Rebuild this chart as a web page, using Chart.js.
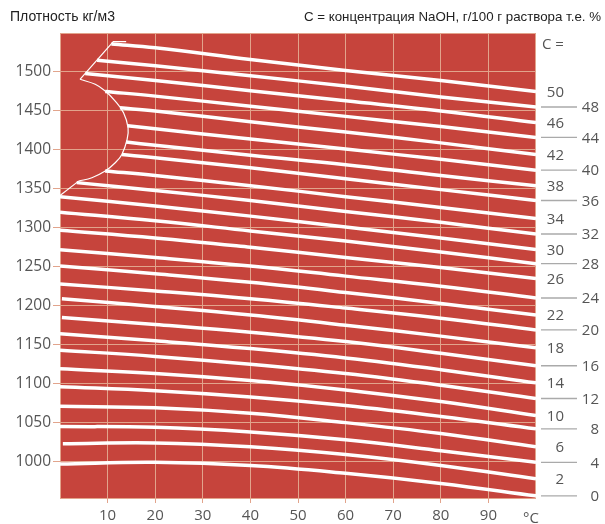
<!DOCTYPE html>
<html lang="ru">
<head>
<meta charset="utf-8">
<title>Плотность растворов NaOH</title>
<script src="https://cdn.jsdelivr.net/npm/chart.js@4.4.1/dist/chart.umd.min.js"></script>
<style>
  html, body { margin: 0; padding: 0; background: #fff; }
  canvas { display: block; }
</style>
</head>
<body>
<canvas id="chart" width="605" height="524"></canvas>
<script>
// concentration, g NaOH / 100 g solution (one white line each)
const CONC = [0, 2, 4, 6, 8, 10, 12, 14, 16, 18, 20, 22, 24, 26, 28, 30, 32, 34, 36, 38, 40, 42, 44, 46, 48, 50];

// where each line starts (temperature, density) - high C lines start on the boundary curve
const START_T = [0, 0.6, 0, 0, 0, 0, 0, 0, 0.4, 0.4, 0, 0, 0, 0, 0, 0, 3.5, 9.5, 13.0, 13.9, 14.2, 12.6, 9.5, 5.3, 7.8, 10.8];
const START_D = [997, 1023, 1045, 1071, 1096, 1119, 1143, 1164, 1185, 1209, 1228, 1251, 1272, 1297, 1320, 1340, 1358, 1373, 1394, 1410, 1431, 1454, 1475, 1498, 1515, 1536];

// density (kg/m3) read at 20, 40, 60, 80 and 100 °C
const TEMPS = [20, 40, 60, 80, 100];
const D_20 = [999, 1024, 1044, 1069, 1091, 1113, 1135, 1155, 1176, 1199, 1219, 1241, 1262, 1287, 1309, 1328, 1348, 1367, 1390, 1406, 1427, 1450, 1469, 1489, 1508, 1531];
const D_40 = [995, 1019, 1038, 1062, 1083, 1104, 1125, 1145, 1166, 1188, 1209, 1230, 1251, 1275, 1296, 1315, 1335, 1354, 1377, 1393, 1414, 1436, 1456, 1476, 1495, 1516];
const D_60 = [985, 1009, 1028, 1050, 1072, 1092, 1113, 1133, 1154, 1175, 1197, 1217, 1238, 1262, 1283, 1301, 1321, 1340, 1363, 1381, 1401, 1423, 1443, 1463, 1482, 1502];
const D_80 = [972, 995, 1014, 1036, 1058, 1077, 1098, 1118, 1139, 1161, 1184, 1203, 1225, 1249, 1269, 1287, 1307, 1326, 1349, 1367, 1388, 1409, 1430, 1450, 1468, 1489];
const D_100 = [956, 978, 999, 1019, 1042, 1059, 1081, 1101, 1123, 1146, 1169, 1188, 1210, 1235, 1254, 1272, 1292, 1312, 1335, 1354, 1374, 1394, 1416, 1435, 1455, 1475];

// solubility boundary (thin line): top straight part, curved part, bottom straight part
const BOUND_TOP_T = [13.9, 11.2, 4.2];
const BOUND_TOP_D = [1539, 1539, 1490.6];
const BOUND_MID_T = [4.2, 7.4, 9.5, 11.6, 13.35, 14.3, 14.1, 13.0, 11.6, 9.5, 6.7, 3.9];
const BOUND_MID_D = [1490.6, 1484.2, 1475.6, 1462.7, 1447.8, 1428.5, 1413.5, 1394.2, 1383.5, 1372.8, 1364.3, 1359.9];
const BOUND_LOW_T = [3.9, 0];
const BOUND_LOW_D = [1359.9, 1341.5];

const X_TICKS = [10, 20, 30, 40, 50, 60, 70, 80, 90];
const Y_TICKS = [1000, 1050, 1100, 1150, 1200, 1250, 1300, 1350, 1400, 1450, 1500];

const TITLE_LEFT = 'Плотность кг/м3';
const TITLE_RIGHT = 'C = концентрация NaOH, г/100 г раствора т.е. %';

const PLOT_RED = '#c6443c';
const GRID = '#e2a48c';
const TEXT = '#555';
const NUM_FONT = '"Open Sans", "Noto Sans", sans-serif';

const COLS = [D_20, D_40, D_60, D_80, D_100];

const lineSets = CONC.map((c, i) => ({
  label: 'C = ' + c,
  data: [{ x: START_T[i], y: START_D[i] }].concat(
    TEMPS.map((t, k) => ({ x: t, y: COLS[k][i] }))
  ),
  borderColor: '#fff',
  borderWidth: 3.5,
  pointRadius: 0,
  tension: 0.4,
}));

const toPts = (ts, ds) => ts.map((t, k) => ({ x: t, y: ds[k] }));
const boundStyle = { borderColor: '#fff', borderWidth: 1.2, pointRadius: 0 };
const boundSets = [
  Object.assign({ label: 'граница', data: toPts(BOUND_TOP_T, BOUND_TOP_D), tension: 0 }, boundStyle),
  Object.assign({ label: 'граница', data: toPts(BOUND_MID_T, BOUND_MID_D), tension: 0.4 }, boundStyle),
  Object.assign({ label: 'граница', data: toPts(BOUND_LOW_T, BOUND_LOW_D), tension: 0 }, boundStyle),
];

// red plot area plus its light frame
const plotBg = {
  id: 'plotBg',
  beforeDraw(chart) {
    const { ctx, chartArea: a } = chart;
    ctx.save();
    ctx.fillStyle = '#fff';
    ctx.fillRect(0, 0, chart.width, chart.height);
    ctx.fillStyle = PLOT_RED;
    ctx.fillRect(a.left, a.top, a.right - a.left, a.bottom - a.top);
    ctx.restore();
  },
  beforeDatasetsDraw(chart) {
    const { ctx, chartArea: a } = chart;
    ctx.save();
    ctx.strokeStyle = GRID;
    ctx.lineWidth = 1;
    ctx.strokeRect(a.left + 0.5, a.top + 0.5, a.right - a.left - 1, a.bottom - a.top - 1);
    ctx.restore();
  },
};

// titles, "C =" column on the right and the °C unit
const sideLabels = {
  id: 'sideLabels',
  afterDraw(chart) {
    const { ctx, chartArea: a, scales } = chart;
    ctx.save();
    ctx.textBaseline = 'middle';
    ctx.fillStyle = '#222';
    ctx.textAlign = 'left';
    ctx.font = '14px "Liberation Sans", Arial, sans-serif';
    ctx.fillText(TITLE_LEFT, 10, 17);
    ctx.textAlign = 'right';
    ctx.font = '13.3px "Liberation Sans", Arial, sans-serif';
    ctx.fillText(TITLE_RIGHT, 601, 17);

    ctx.font = '15px ' + NUM_FONT;
    ctx.fillStyle = TEXT;
    ctx.textAlign = 'left';
    ctx.fillText('C =', a.right + 6, 45);

    ctx.strokeStyle = '#aaa';
    ctx.lineWidth = 1.4;
    CONC.forEach((c, i) => {
      const y = scales.y.getPixelForValue(D_100[i]);
      ctx.textAlign = 'right';
      if (c % 4 === 2) {
        ctx.fillText(String(c), 564, y + 1);
      } else {
        ctx.beginPath();
        ctx.moveTo(a.right + 5, y);
        ctx.lineTo(a.right + 41, y);
        ctx.stroke();
        ctx.fillText(String(c), 599, y + 1);
      }
    });

    ctx.textAlign = 'center';
    ctx.fillText('°C', a.right - 5, 519);
    ctx.restore();
  },
};

new Chart(document.getElementById('chart'), {
  type: 'line',
  data: { datasets: lineSets.concat(boundSets) },
  options: {
    responsive: false,
    animation: false,
    layout: { padding: { top: 33, right: 69, left: 0, bottom: 0 } },
    scales: {
      x: {
        type: 'linear',
        min: 0,
        max: 100,
        afterBuildTicks: (s) => { s.ticks = X_TICKS.map((v) => ({ value: v })); },
        afterFit: (s) => { s.height = 25; },
        grid: { color: GRID, lineWidth: 1, tickLength: 4 },
        border: { display: false },
        ticks: { color: TEXT, font: { family: NUM_FONT, size: 15 }, padding: 4, maxRotation: 0, autoSkip: false, callback: (v) => String(v) },
      },
      y: {
        type: 'linear',
        min: 952,
        max: 1550,
        afterBuildTicks: (s) => { s.ticks = Y_TICKS.map((v) => ({ value: v })); },
        afterFit: (s) => { s.width = 60; },
        grid: { color: GRID, lineWidth: 1, tickLength: 7 },
        border: { display: false },
        ticks: { color: TEXT, font: { family: NUM_FONT, size: 15.5 }, padding: 2, callback: (v) => String(v) },
      },
    },
    plugins: {
      legend: { display: false },
      tooltip: { enabled: false },
    },
  },
  plugins: [plotBg, sideLabels],
});
</script>
</body>
</html>
